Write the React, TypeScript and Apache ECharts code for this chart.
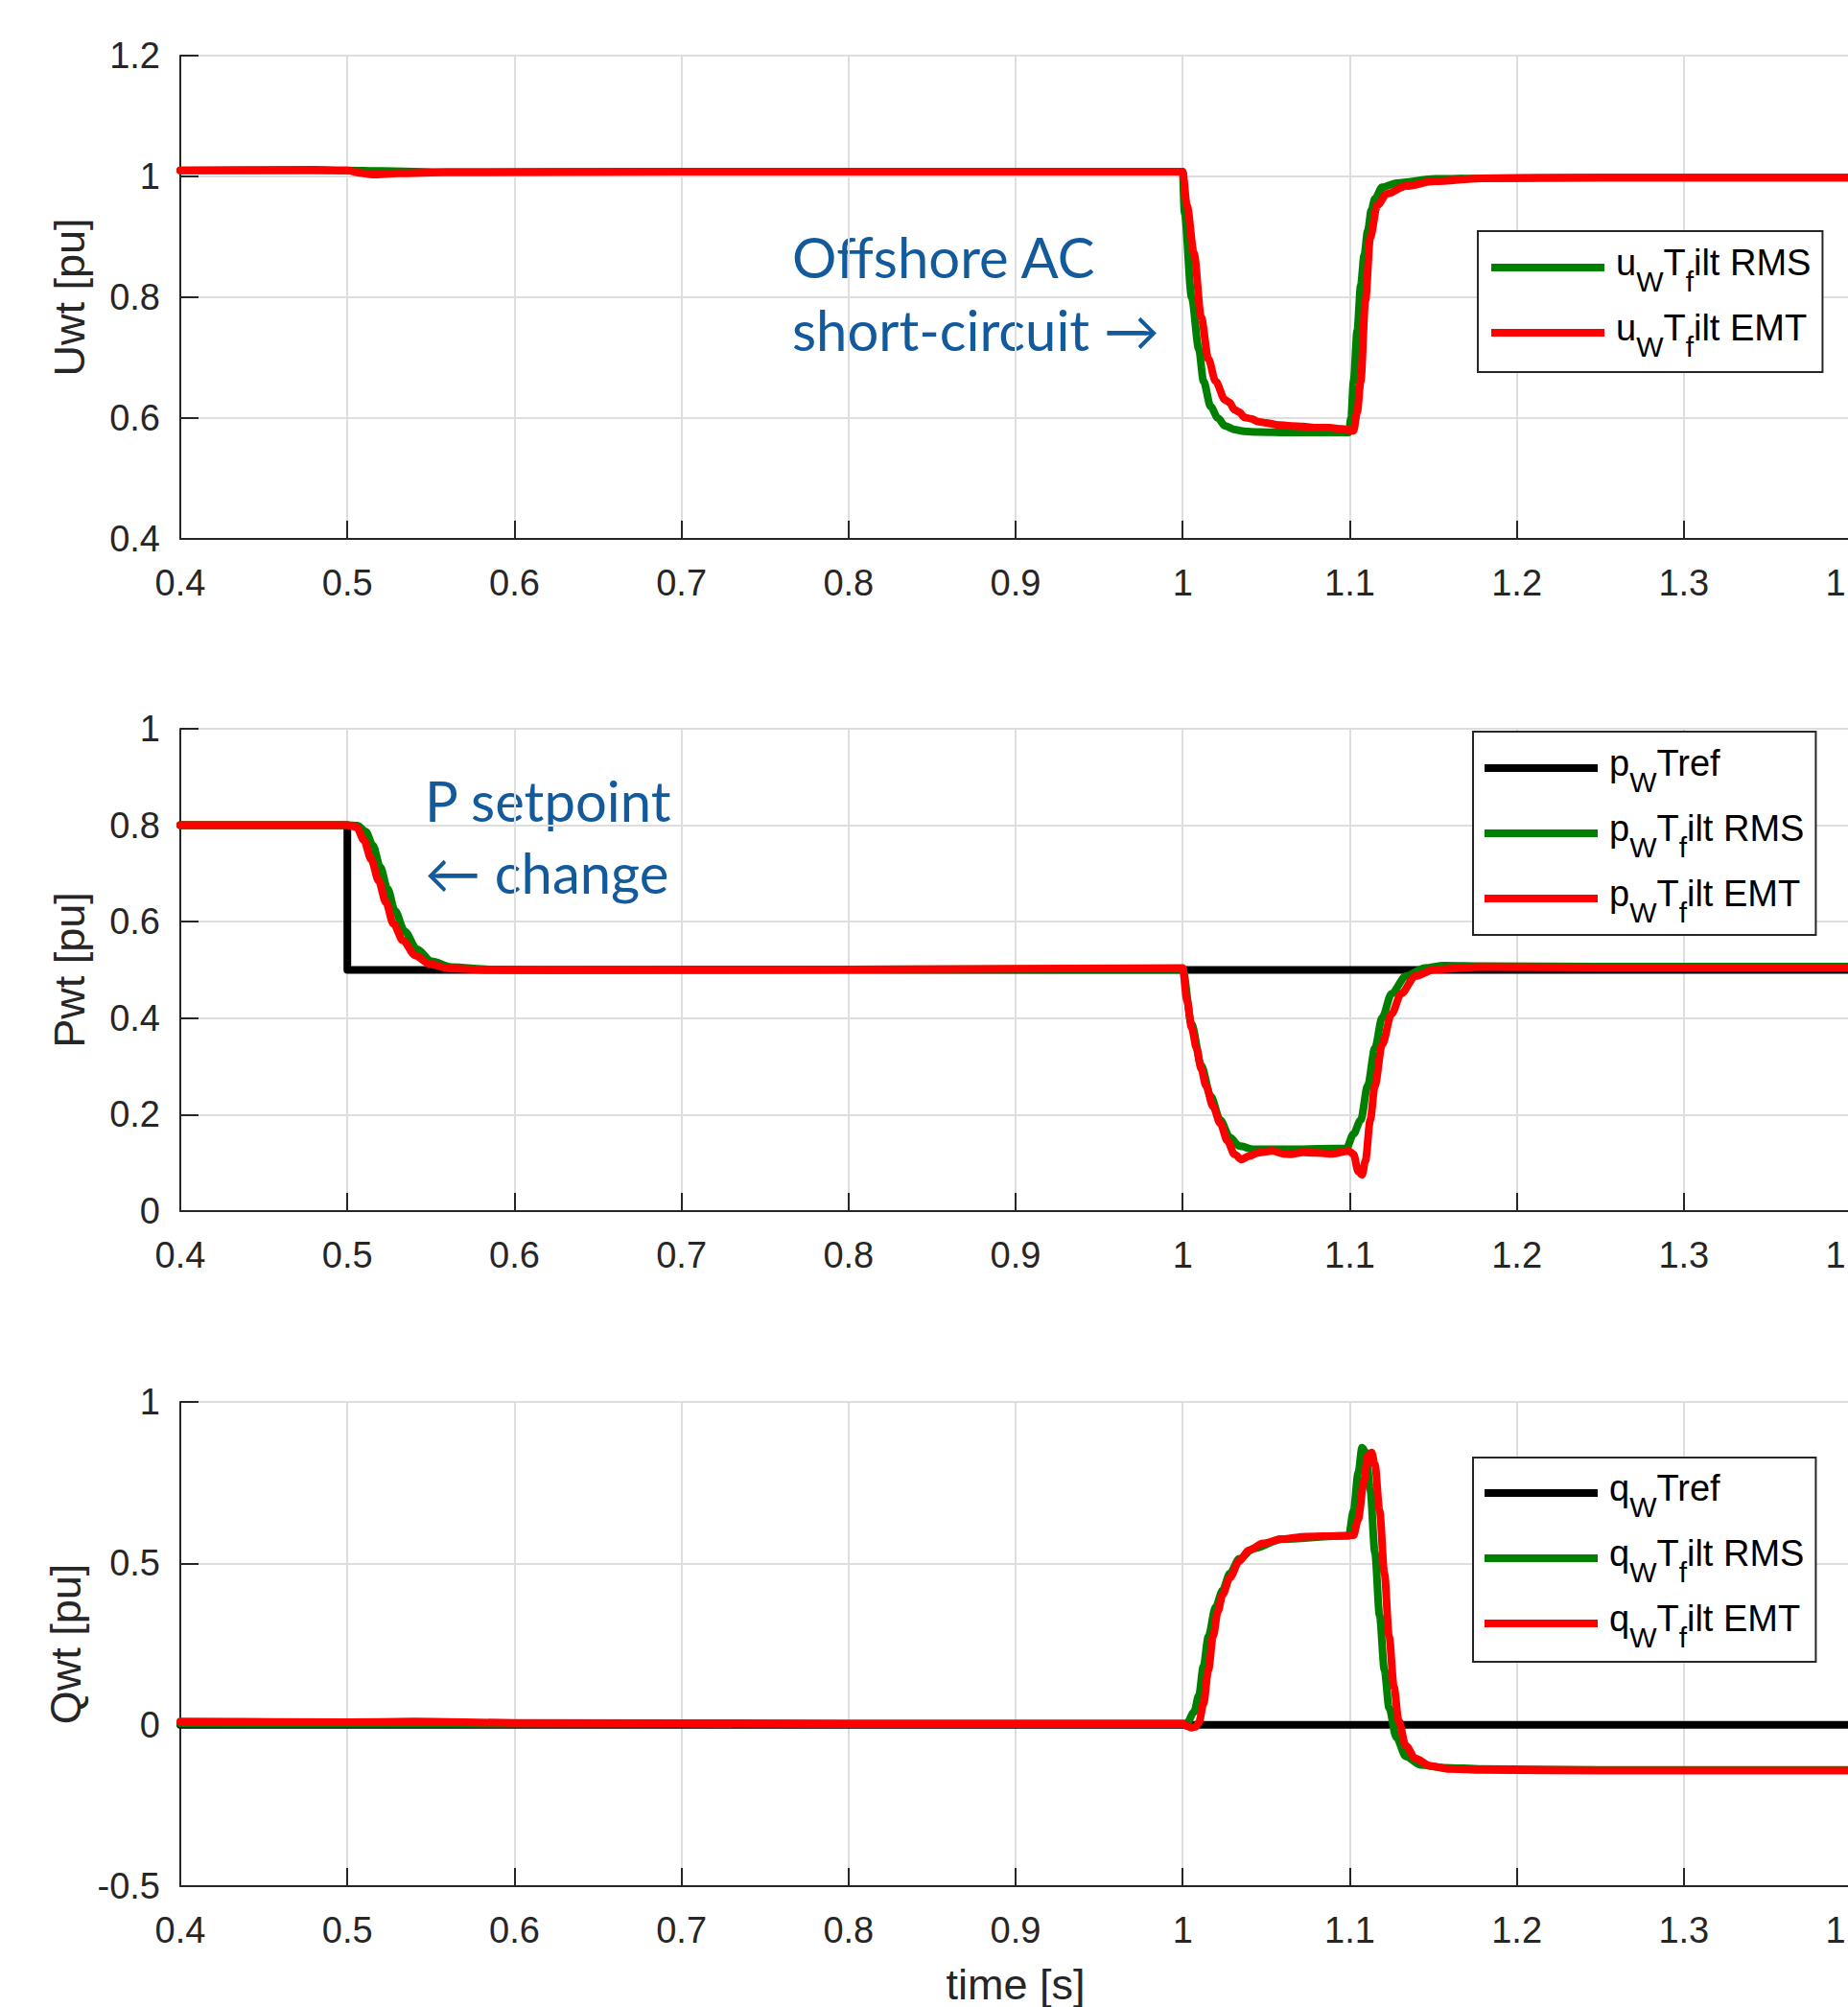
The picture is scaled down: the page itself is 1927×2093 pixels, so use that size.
import React, { useEffect, useRef } from "react";
import * as echarts from "echarts";

// ---------- axis ranges / ticks ----------
const timeRange = [0.4, 1.4, 0.1];
const uRange = [0.4, 1.2, 0.2];
const pRange = [0, 1, 0.2];
const qRange = [-0.5, 1, 0.5];

// ---------- Uwt ----------
const tUrms = [0.4, 0.45, 0.5, 0.52, 0.56, 0.7, 1.0, 1.0011, 1.0054, 1.0097, 1.0125, 1.0168, 1.0211, 1.0254, 1.031, 1.0368, 1.045, 1.065, 1.0994, 1.1008, 1.1023, 1.1045, 1.1066, 1.1087, 1.1108, 1.113, 1.1151, 1.1194, 1.128, 1.151, 1.179, 1.25, 1.4];
const vUrms = [1.01, 1.01, 1.01, 1.009, 1.007, 1.008, 1.008, 0.94, 0.80, 0.714, 0.661, 0.619, 0.60, 0.587, 0.581, 0.578, 0.577, 0.576, 0.576, 0.60, 0.661, 0.745, 0.82, 0.87, 0.91, 0.945, 0.963, 0.982, 0.989, 0.996, 0.997, 0.998, 0.998];
const tUemt = [0.4, 0.48, 0.5, 0.507, 0.515, 0.53, 0.56, 0.7, 1.0, 1.0026, 1.0068, 1.0111, 1.0154, 1.0197, 1.0254, 1.028, 1.031, 1.0339, 1.037, 1.041, 1.0453, 1.05, 1.056, 1.0652, 1.072, 1.08, 1.088, 1.095, 1.1023, 1.1045, 1.1066, 1.1094, 1.1123, 1.1165, 1.1222, 1.1336, 1.1507, 1.1792, 1.25, 1.4];
const vUemt = [1.01, 1.011, 1.01, 1.006, 1.003, 1.005, 1.007, 1.008, 1.008, 0.952, 0.873, 0.767, 0.698, 0.661, 0.630, 0.626, 0.614, 0.610, 0.601, 0.599, 0.594, 0.592, 0.589, 0.587, 0.586, 0.584, 0.584, 0.582, 0.579, 0.61, 0.661, 0.794, 0.899, 0.952, 0.971, 0.984, 0.992, 0.997, 0.998, 0.998];

// ---------- Pwt ----------
const tPref = [0.4, 0.5, 0.5, 1.4];
const vPref = [0.8, 0.8, 0.5, 0.5];
const tPrms = [0.4, 0.5, 0.506, 0.511, 0.5153, 0.5197, 0.5241, 0.5285, 0.5343, 0.5416, 0.5504, 0.5621, 0.5855, 0.62, 0.8, 1.0, 1.0054, 1.0111, 1.0168, 1.0225, 1.0282, 1.0339, 1.0425, 1.0652, 1.098, 1.1023, 1.1066, 1.1108, 1.1151, 1.1194, 1.1251, 1.1336, 1.145, 1.1564, 1.1792, 1.25, 1.4];
const vPrms = [0.8, 0.8, 0.799, 0.787, 0.758, 0.713, 0.668, 0.623, 0.58, 0.543, 0.518, 0.506, 0.501, 0.5, 0.501, 0.502, 0.387, 0.302, 0.238, 0.189, 0.153, 0.135, 0.128, 0.128, 0.130, 0.160, 0.189, 0.260, 0.338, 0.401, 0.451, 0.487, 0.504, 0.509, 0.508, 0.507, 0.507];
const tPemt = [0.4, 0.5, 0.5056, 0.5099, 0.5143, 0.5187, 0.5231, 0.5275, 0.5333, 0.5406, 0.5494, 0.5611, 0.5845, 0.62, 0.8, 1.0, 1.0026, 1.0054, 1.0083, 1.0111, 1.014, 1.0182, 1.0225, 1.0268, 1.031, 1.0353, 1.0396, 1.0453, 1.0538, 1.06, 1.0652, 1.072, 1.0795, 1.09, 1.0994, 1.1023, 1.1051, 1.1074, 1.1094, 1.1123, 1.1151, 1.1194, 1.1251, 1.1308, 1.1393, 1.1507, 1.1792, 1.25, 1.4];
const vPemt = [0.8, 0.8, 0.796, 0.769, 0.729, 0.685, 0.640, 0.596, 0.561, 0.530, 0.512, 0.503, 0.500, 0.500, 0.501, 0.504, 0.437, 0.380, 0.338, 0.295, 0.260, 0.217, 0.182, 0.146, 0.118, 0.107, 0.114, 0.121, 0.125, 0.119, 0.118, 0.122, 0.121, 0.119, 0.125, 0.118, 0.082, 0.075, 0.104, 0.189, 0.260, 0.345, 0.409, 0.451, 0.487, 0.501, 0.506, 0.505, 0.505];

// ---------- Qwt ----------
const tQref = [0.4, 1.4];
const vQref = [0, 0];
const tQrms = [0.4, 0.6, 0.8, 1.0, 1.0026, 1.0068, 1.0097, 1.0125, 1.0154, 1.0197, 1.0239, 1.0282, 1.0339, 1.0425, 1.0595, 1.0937, 1.0994, 1.1023, 1.1051, 1.1074, 1.1097, 1.1123, 1.1151, 1.1179, 1.1208, 1.1236, 1.1279, 1.1336, 1.1422, 1.1564, 1.1792, 1.25, 1.4];
const vQrms = [0.004, 0.003, 0.002, 0.002, 0.006, 0.039, 0.091, 0.182, 0.273, 0.364, 0.416, 0.468, 0.514, 0.546, 0.575, 0.585, 0.585, 0.663, 0.780, 0.858, 0.843, 0.728, 0.533, 0.338, 0.169, 0.052, -0.039, -0.098, -0.124, -0.133, -0.137, -0.14, -0.14];
const tQemt = [0.4, 0.5, 0.54, 0.6, 0.8, 1.0, 1.0025, 1.0054, 1.0078, 1.0097, 1.0125, 1.0154, 1.0182, 1.0211, 1.0239, 1.0282, 1.0339, 1.0396, 1.0481, 1.0595, 1.0738, 1.0937, 1.1023, 1.1051, 1.1085, 1.1108, 1.1131, 1.1151, 1.1179, 1.1208, 1.1236, 1.1265, 1.1293, 1.1336, 1.1393, 1.1479, 1.1593, 1.1792, 1.25, 1.4];
const vQemt = [0.01, 0.008, 0.01, 0.006, 0.004, 0.004, -0.004, -0.009, -0.006, 0.0065, 0.065, 0.169, 0.273, 0.351, 0.403, 0.455, 0.507, 0.540, 0.562, 0.575, 0.583, 0.585, 0.587, 0.637, 0.754, 0.832, 0.843, 0.806, 0.663, 0.468, 0.273, 0.117, 0.013, -0.065, -0.104, -0.127, -0.137, -0.140, -0.142, -0.142];

// ---------- labels ----------
const yNames = ["Uwt [pu]", "Pwt [pu]", "Qwt [pu]"];
const xName = "time [s]";
const legendRich: Record<string, string> = {
  "uWTfilt RMS": "{f|u}{s|W}{n|T}{s|f}{n|ilt RMS}",
  "uWTfilt EMT": "{f|u}{s|W}{n|T}{s|f}{n|ilt EMT}",
  "pWTref": "{f|p}{s|W}{n|Tref}",
  "pWTfilt RMS": "{f|p}{s|W}{n|T}{s|f}{n|ilt RMS}",
  "pWTfilt EMT": "{f|p}{s|W}{n|T}{s|f}{n|ilt EMT}",
  "qWTref": "{f|q}{s|W}{n|Tref}",
  "qWTfilt RMS": "{f|q}{s|W}{n|T}{s|f}{n|ilt RMS}",
  "qWTfilt EMT": "{f|q}{s|W}{n|T}{s|f}{n|ilt EMT}",
};

const zip = (t: number[], v: number[]) => t.slice(0, Math.min(t.length, v.length)).map((x, i) => [x, v[i]]);

const FONT = '"Liberation Sans", Arial, Helvetica, sans-serif';
const AX = "#262626";
const GREEN = "#008000";
const RED = "#ff0000";
const BLACK = "#000000";
const BLUE = "#135a9c";

const grids = [
  { left: 188, top: 58, width: 1742, height: 504 },
  { left: 188, top: 760, width: 1742, height: 503 },
  { left: 188, top: 1462, width: 1742, height: 507 },
];
const yRanges = [uRange, pRange, qRange];

function App() {
  const ref = useRef<HTMLDivElement>(null);
  useEffect(() => {
    if (!ref.current) return;
    const chart = echarts.init(ref.current, null, { renderer: "svg" });

    const xAxis = grids.map((_, i) => ({
      type: "value",
      gridIndex: i,
      min: timeRange[0],
      max: timeRange[1],
      interval: timeRange[2],
      name: i === 2 ? xName : "",
      nameLocation: "middle",
      nameGap: 80,
      nameTextStyle: { color: AX, fontSize: 45, fontFamily: FONT },
      axisLine: { show: true, onZero: false, lineStyle: { color: AX, width: 2 } },
      axisTick: { show: true, inside: true, length: 19, lineStyle: { color: AX, width: 2 } },
      axisLabel: { color: AX, fontSize: 38, fontFamily: FONT, margin: 27 },
      splitLine: { show: true, lineStyle: { color: "#dedede", width: 2 } },
    }));

    const yAxis = grids.map((_, i) => ({
      type: "value",
      gridIndex: i,
      min: yRanges[i][0],
      max: yRanges[i][1],
      interval: yRanges[i][2],
      name: yNames[i],
      nameLocation: "middle",
      nameGap: 93,
      nameTextStyle: { color: AX, fontSize: 45, fontFamily: FONT },
      axisLine: { show: true, onZero: false, lineStyle: { color: AX, width: 2 } },
      axisTick: { show: true, inside: true, length: 19, lineStyle: { color: AX, width: 2 } },
      axisLabel: { color: AX, fontSize: 38, fontFamily: FONT, margin: 21 },
      splitLine: { show: true, lineStyle: { color: "#dedede", width: 2 } },
    }));

    const line = (name: string, idx: number, data: number[][], color: string, smooth: boolean) => ({
      type: "line",
      name,
      xAxisIndex: idx,
      yAxisIndex: idx,
      data,
      showSymbol: false,
      symbol: "none",
      smooth: smooth ? 0.3 : false,
      smoothMonotone: "x",
      silent: true,
      emphasis: { disabled: true },
      lineStyle: { color, width: 8, join: "round", cap: "round" },
      itemStyle: { color },
    });

    const series = [
      line("uWTfilt RMS", 0, zip(tUrms, vUrms), GREEN, true),
      line("uWTfilt EMT", 0, zip(tUemt, vUemt), RED, true),
      line("pWTref", 1, zip(tPref, vPref), BLACK, false),
      line("pWTfilt RMS", 1, zip(tPrms, vPrms), GREEN, true),
      line("pWTfilt EMT", 1, zip(tPemt, vPemt), RED, true),
      line("qWTref", 2, zip(tQref, vQref), BLACK, false),
      line("qWTfilt RMS", 2, zip(tQrms, vQrms), GREEN, true),
      line("qWTfilt EMT", 2, zip(tQemt, vQemt), RED, true),
    ];

    const rich = {
      f: { fontSize: 38, lineHeight: 38, fontFamily: FONT, color: BLACK, verticalAlign: "top", padding: [6, 0, 0, 7] },
      n: { fontSize: 38, lineHeight: 38, fontFamily: FONT, color: BLACK, verticalAlign: "top", padding: [6, 0, 0, 0] },
      s: { fontSize: 30, lineHeight: 60, fontFamily: FONT, color: BLACK, verticalAlign: "top", padding: [29, 0, 0, 0] },
    };
    const legend = (data: string[], left: number, top: number, padding: number[]) => ({
      show: true,
      orient: "vertical",
      left,
      top,
      data,
      icon: "rect",
      itemWidth: 118,
      itemHeight: 8,
      itemGap: 9,
      padding,
      borderColor: AX,
      borderWidth: 2,
      borderRadius: 0,
      backgroundColor: "#ffffff",
      selectedMode: false,
      formatter: (name: string) => legendRich[name] || name,
      textStyle: { fontFamily: FONT, fontSize: 38, color: BLACK, rich },
    });

    const annotation = (text: string, x: number, y: number) => ({
      type: "text",
      x,
      y,
      silent: true,
      style: {
        text,
        fill: BLUE,
        fontSize: 58,
        fontFamily: "Lato, 'Open Sans', 'Noto Sans', sans-serif",
        align: "left",
        verticalAlign: "middle",
      },
    });

    chart.setOption({
      animation: false,
      backgroundColor: "#ffffff",
      grid: grids,
      xAxis,
      yAxis,
      series,
      legend: [
        legend(["uWTfilt RMS", "uWTfilt EMT"], 1541, 241, [8, 12, 12, 14]),
        legend(["pWTref", "pWTfilt RMS", "pWTfilt EMT"], 1536, 763, [8, 12, 9, 12]),
        legend(["qWTref", "qWTfilt RMS", "qWTfilt EMT"], 1536, 1520, [7, 12, 11, 12]),
      ],
      graphic: [
        annotation("Offshore AC", 826, 267),
        annotation("short-circuit \u2192", 826, 343),
        annotation("P setpoint", 443, 834),
        annotation("\u2190 change", 443, 909),
      ],
    });
    return () => chart.dispose();
  }, []);

  return (
    <div style={{ position: "absolute", left: 0, top: 0, width: 1927, height: 2093, overflow: "hidden", background: "#fff" }}>
      <div ref={ref} style={{ width: 1960, height: 2093 }} />
    </div>
  );
}

export default App;
